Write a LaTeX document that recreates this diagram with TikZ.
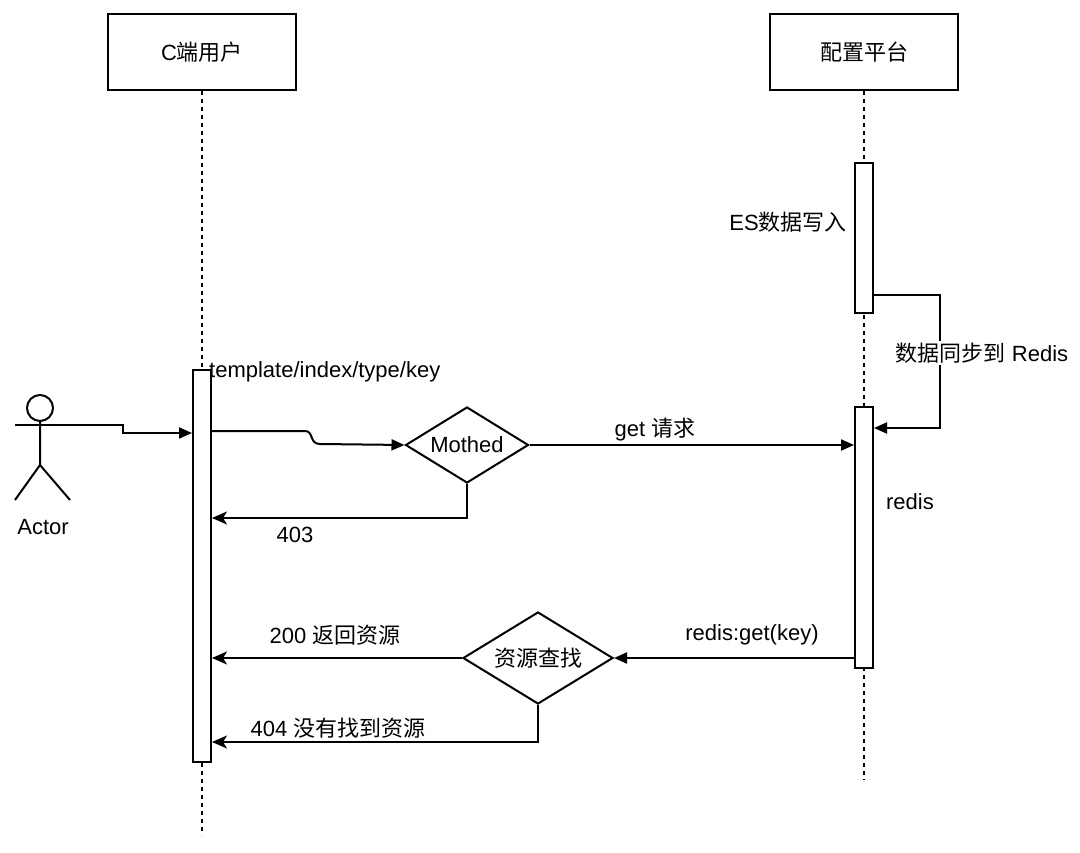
\documentclass[tikz,border=0pt]{standalone}
\usepackage{fontspec}
\setmainfont{Liberation Sans}
\newfontfamily\cjk{Noto Sans CJK SC}
\newcommand{\zh}[1]{{\cjk #1}}
\usetikzlibrary{arrows.meta,shapes.geometric,positioning}
\tikzset{
  lifebox/.style={draw,line width=2pt,minimum width=188pt,minimum height=76pt,inner sep=0pt},
  lifeline/.style={line width=2pt,dash pattern=on 4pt off 4pt},
  actbar/.style={draw,fill=white,line width=2pt,minimum width=18pt,inner sep=0pt},
  choice/.style={draw,diamond,aspect=1.62,line width=2pt,inner sep=0pt,fill=white},
  call/.style={line width=2pt,-{Triangle[length=13pt,width=11pt]}},
  ret/.style={line width=2pt,-{Stealth[length=15pt,width=13pt,inset=4pt]}},
  msg/.style={inner sep=2pt},
}
\begin{document}
\begin{tikzpicture}[x=1pt,y=-1pt,line join=miter,font=\fontsize{22}{26}\selectfont]
  \useasboundingbox[fill=white] (0,0) rectangle (1080,853);
  % participants
  \node[lifebox] (user) at (202,52) {C\zh{端用户}};
  \node[lifebox] (conf) at (864,52) {\zh{配置平台}};
  \coordinate (userend) at (202,835);
  \coordinate (confend) at (864,780);
  \draw[lifeline] (user.south) -- (userend);
  \draw[lifeline] (conf.south) -- (confend);

  % activation bars
  \node[actbar,minimum height=392pt] (ubar) at (202,566) {};
  \node[actbar,minimum height=150pt] (esbar) at (864,238) {};
  \node[actbar,minimum height=261pt] (rbar) at (864,537.5) {};

  % actor
  \draw[line width=2pt] (40,408) circle (13pt);
  \draw[line width=2pt] (40,421) -- (40,465) -- (15,500) (40,465) -- (70,500);
  \coordinate (hand) at (15,425);
  \node (actorlbl) at (43,527) {Actor};
  \draw[call] (hand) -- ++(108,0) |- (ubar.west |- 0,433);

  % conditions
  \node[choice,minimum width=123pt,minimum height=76pt] (mothed) at (467,445) {Mothed};
  \node[choice,minimum width=150pt,minimum height=92pt] (find) at (538,658) {\zh{资源查找}};

  % messages
  \draw[call] (ubar.east |- 0,431) -- (305,431) .. controls (314,431) and (309,444) .. (320,444) -- (mothed.west);
  \draw[call] (mothed.east) -- (rbar.west |- mothed.east);
  \draw[ret] (mothed.south) |- (ubar.east |- 0,518);
  \draw[call] (esbar.east |- 0,295) -- ++(66,0) |- (rbar.east |- 0,428);
  \draw[call] (rbar.west |- find.east) -- (find.east);
  \draw[ret] (find.west) -- (ubar.east |- find.west);
  \draw[ret] (find.south) |- (ubar.east |- 0,742);

  % labels
  \node[msg,anchor=west] (tpl) at (207,372) {template/index/type/key};
  \node[msg] (es) at (788,222) {ES\zh{数据写入}};
  \node[msg,fill=white] (sync) at (982,353) {\zh{数据同步到} Redis};
  \node[msg] (get) at (655,430) {get \zh{请求}};
  \node[msg] (f403) at (295,535) {403};
  \node[msg] (redis) at (910,502) {redis};
  \node[msg] (rget) at (752,635) {redis:get(key)};
  \node[msg] (ok200) at (335,635) {200 \zh{返回资源}};
  \node[msg] (nf404) at (338,728) {404 \zh{没有找到资源}};
\end{tikzpicture}
\end{document}
